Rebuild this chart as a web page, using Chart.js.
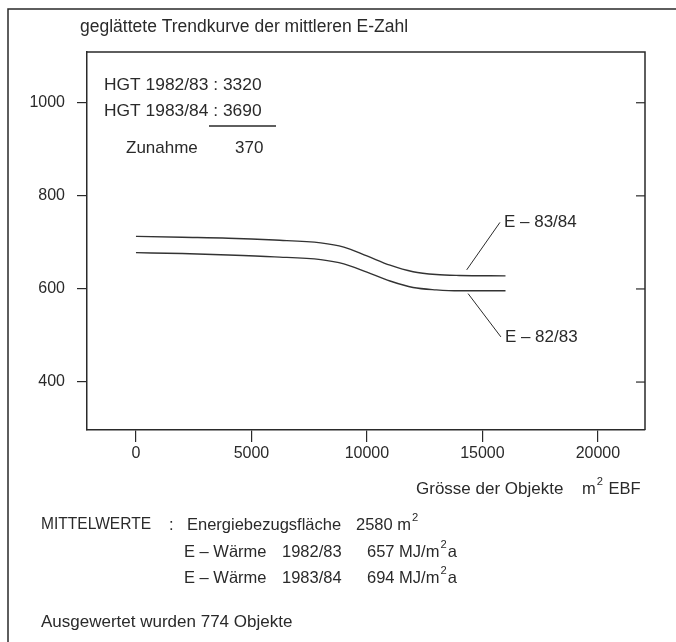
<!DOCTYPE html>
<html>
<head>
<meta charset="utf-8">
<script src="https://cdn.jsdelivr.net/npm/chart.js@4"></script>
<style>
  body { margin: 0; background: #fff; }
  canvas { display: block; }
</style>
</head>
<body>
<canvas id="trendChart" width="676" height="642"></canvas>
<script>
// Trendkurven (geglättet), Grösse m2 EBF gegen E-Zahl MJ/m2a
const groesse = [0, 2000, 4000, 6000, 8000, 9000, 10000, 11000, 12000, 13000, 14000, 16000];
const eZahl8384 = [713, 711, 709, 705, 699, 690, 671, 651, 637, 631, 629, 628];
const eZahl8283 = [678, 676, 673, 669, 663, 654, 636, 617, 603, 598, 596, 596];
const xTicks = [0, 5000, 10000, 15000, 20000];
const yTicks = [400, 600, 800, 1000];

// Beschriftung der Kurven: Text, Hinweislinie von / bis (Datenwerte)
const kurvenNamen = ['E – 83/84', 'E – 82/83'];
const hinweisVon = [[14320, 641], [14380, 590]];
const hinweisBis = [[15760, 743], [15800, 497]];

const FONT = '"Liberation Sans", Arial, sans-serif';
const INK = '#2a2a2a';

function text(ctx, s, x, y, size, maxW) {
    ctx.font = size + 'px ' + FONT;
    if (maxW) ctx.fillText(s, x, y, maxW);
    else ctx.fillText(s, x, y);
    return x + Math.min(ctx.measureText(s).width, maxW || 1e9);
}

// text with superscript "2" and optional tail
function textSup(ctx, base, tail, x, y, size) {
    let end = text(ctx, base, x, y, size);
    end = text(ctx, '2', end + 1, y - size * 0.45, size * 0.68);
    if (tail) text(ctx, tail, end + 1, y, size);
}

const rahmenPlugin = {
    id: 'rahmen',
    afterDraw(chart) {
        const ctx = chart.ctx;
        const a = chart.chartArea;
        const xs = chart.scales.x, ys = chart.scales.y;
        ctx.save();
        ctx.strokeStyle = INK;
        ctx.fillStyle = INK;

        // outer frame
        ctx.lineWidth = 1.5;
        ctx.beginPath();
        ctx.moveTo(8, 642);
        ctx.lineTo(8, 9);
        ctx.lineTo(676, 9);
        ctx.stroke();

        // top + right of the plot box
        ctx.beginPath();
        ctx.moveTo(a.left, a.top);
        ctx.lineTo(a.right, a.top);
        ctx.lineTo(a.right, a.bottom);
        ctx.stroke();

        // inner ticks on right side
        ctx.lineWidth = 1.2;
        yTicks.forEach(v => {
            const py = ys.getPixelForValue(v);
            ctx.beginPath();
            ctx.moveTo(a.right, py);
            ctx.lineTo(a.right - 9, py);
            ctx.stroke();
        });

        // curve labels with leader lines
        ctx.lineWidth = 1;
        ctx.textBaseline = 'middle';
        ctx.textAlign = 'left';
        kurvenNamen.forEach((name, i) => {
            const x1 = xs.getPixelForValue(hinweisVon[i][0]), y1 = ys.getPixelForValue(hinweisVon[i][1]);
            const x2 = xs.getPixelForValue(hinweisBis[i][0]), y2 = ys.getPixelForValue(hinweisBis[i][1]);
            ctx.beginPath();
            ctx.moveTo(x1, y1);
            ctx.lineTo(x2, y2);
            ctx.stroke();
            text(ctx, name, x2 + 4, y2, 17);
        });

        // title
        text(ctx, 'geglättete Trendkurve der mittleren E-Zahl', 80, 27, 17.5);

        // HGT box
        text(ctx, 'HGT 1982/83 : 3320', 104, 85, 17.4);
        text(ctx, 'HGT 1983/84 : 3690', 104, 111, 17.4);
        ctx.lineWidth = 1.4;
        ctx.beginPath();
        ctx.moveTo(209, 126);
        ctx.lineTo(276, 126);
        ctx.stroke();
        text(ctx, 'Zunahme', 126, 148, 17);
        text(ctx, '370', 235, 148, 17);

        // axis title
        text(ctx, 'Grösse der Objekte', 416, 489, 17);
        textSup(ctx, 'm', ' EBF', 582, 489, 16.5);

        // Mittelwerte
        text(ctx, 'MITTELWERTE', 41, 525, 16, 110);
        text(ctx, ':', 169, 525, 16.5);
        text(ctx, 'Energiebezugsfläche', 187, 525, 16.5);
        textSup(ctx, '2580 m', '', 356, 525, 16.5);

        text(ctx, 'E – Wärme', 184, 552, 16.5);
        text(ctx, '1982/83', 282, 552, 16.5);
        textSup(ctx, '657 MJ/m', 'a', 367, 552, 16.5);

        text(ctx, 'E – Wärme', 184, 578, 16.5);
        text(ctx, '1983/84', 282, 578, 16.5);
        textSup(ctx, '694 MJ/m', 'a', 367, 578, 16.5);

        text(ctx, 'Ausgewertet wurden 774 Objekte', 41, 622, 17);
        ctx.restore();
    }
};

new Chart(document.getElementById('trendChart'), {
    type: 'line',
    data: {
        datasets: [{
            label: 'E - 83/84',
            data: groesse.map((x, i) => ({ x: x, y: eZahl8384[i] })),
            borderColor: '#333',
            borderWidth: 1.4,
            pointRadius: 0,
            cubicInterpolationMode: 'monotone'
        }, {
            label: 'E - 82/83',
            data: groesse.map((x, i) => ({ x: x, y: eZahl8283[i] })),
            borderColor: '#333',
            borderWidth: 1.4,
            pointRadius: 0,
            cubicInterpolationMode: 'monotone'
        }]
    },
    options: {
        responsive: false,
        animation: false,
        layout: { padding: { left: 8, top: 52, right: 31, bottom: 172 } },
        plugins: { legend: { display: false }, tooltip: { enabled: false } },
        scales: {
            x: {
                type: 'linear',
                min: -2120,
                max: 22040,
                afterBuildTicks: s => { s.ticks = xTicks.map(v => ({ value: v })); },
                afterFit: s => { s.height = 40; },
                grid: { drawOnChartArea: false, tickLength: 12, color: INK, lineWidth: 1.2 },
                border: { color: INK, width: 1.5 },
                ticks: { font: { family: FONT, size: 16 }, color: INK, padding: 2, maxRotation: 0,
                         callback: v => String(v) }
            },
            y: {
                min: 297,
                max: 1109,
                afterBuildTicks: s => { s.ticks = yTicks.map(v => ({ value: v })); },
                afterFit: s => { s.width = 79; },
                grid: { drawOnChartArea: false, tickLength: 10, color: INK, lineWidth: 1.2 },
                border: { color: INK, width: 1.5 },
                ticks: { font: { family: FONT, size: 16 }, color: INK, padding: 12,
                         callback: v => String(v) }
            }
        }
    },
    plugins: [rahmenPlugin]
});
</script>
</body>
</html>
